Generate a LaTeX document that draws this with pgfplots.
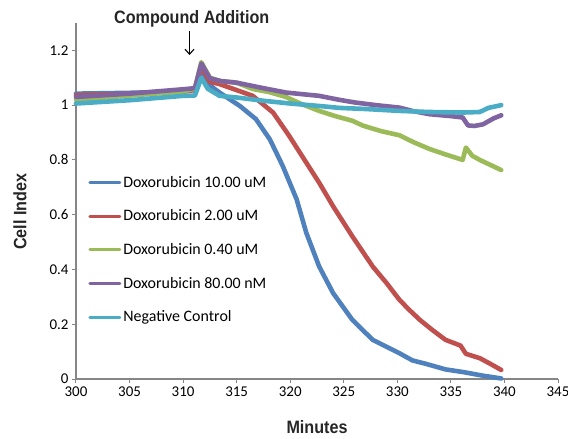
\documentclass[border=0pt]{standalone}
\usepackage{fontspec}
\setmainfont{Carlito}
\newfontfamily\condfont[FakeStretch=0.9]{Liberation Sans Bold}
\usepackage{pgfplots}
\pgfplotsset{compat=1.18}
\usetikzlibrary{arrows.meta}

\definecolor{cblue}{HTML}{4F81BD}
\definecolor{cred}{HTML}{C0504D}
\definecolor{cgreen}{HTML}{9BBB59}
\definecolor{cpurple}{HTML}{8064A2}
\definecolor{ccyan}{HTML}{4BACC6}
\definecolor{axisgray}{HTML}{868686}
\definecolor{labelgray}{HTML}{262626}

\begin{document}
\begin{tikzpicture}
\begin{axis}[
    scale only axis,
    width=482bp, height=356bp,
    xmin=300, xmax=345, ymin=0, ymax=1.3,
    xtick={300,305,310,315,320,325,330,335,340,345},
    ytick={0,0.2,0.4,0.6,0.8,1,1.2},
    axis x line*=bottom, axis y line*=left,
    axis line style={-, draw=axisgray, line width=1.2bp},
    tick style={draw=axisgray, line width=1bp},
    tick align=outside, major tick length=4bp,
    /pgf/number format/assume math mode=true,
    ticklabel style={font=\fontsize{15}{18}\selectfont},
    xlabel={Minutes},
    ylabel={Cell Index},
    xlabel style={at={(axis description cs:0.5,0)}, anchor=north, yshift=-38bp,
        font=\condfont\fontsize{18}{20}\selectfont, text=labelgray},
    ylabel style={at={(axis description cs:0,0.47)}, anchor=center, yshift=56bp,
        font=\condfont\fontsize{18}{20}\selectfont, text=labelgray},
    legend style={at={(0.019,0.584)}, anchor=north west, draw=none, fill=none,
        font=\fontsize{16}{19}\selectfont, row sep=14.6bp,
        nodes={inner sep=2bp, text height=12bp, text depth=3bp}},
    legend cell align=left,
    legend image code/.code={\draw[#1, line width=3bp] (0bp,0bp) -- (30bp,0bp);},
    every axis plot/.append style={line width=4.6bp, line join=round, line cap=round, no markers},
    clip=false,
]

% Doxorubicin 10.00 uM
\addplot[color=cblue] coordinates {
(300,1.042) (305,1.045) (310,1.050) (311.1,1.055) (311.7,1.13) (312.4,1.075)
(313.4,1.046) (315.3,0.997) (316.8,0.949) (318.1,0.875) (319.3,0.778)
(320.6,0.656) (321.5,0.534) (322.7,0.411) (324.0,0.314) (325.8,0.216)
(327.7,0.143) (330.2,0.094) (331.4,0.068) (332.7,0.055) (334.5,0.035)
(336.2,0.025) (338.0,0.012) (339.7,0.002)
};
\addlegendentry{Doxorubicin 10.00 uM}

% Doxorubicin 2.00 uM
\addplot[color=cred] coordinates {
(300,1.036) (305,1.042) (310,1.050) (311.1,1.055) (311.7,1.14) (312.5,1.085)
(313.4,1.077) (316.5,1.034) (318.4,0.973) (319.9,0.888) (321.5,0.790)
(322.7,0.717) (324.0,0.631) (325.8,0.521) (327.7,0.411) (329.0,0.350)
(330.2,0.289) (331.1,0.253) (332.1,0.216) (333.3,0.178) (334.5,0.143)
(335.9,0.122) (336.4,0.092) (337.7,0.076) (338.7,0.055) (339.7,0.033)
};
\addlegendentry{Doxorubicin 2.00 uM}

% Doxorubicin 0.40 uM
\addplot[color=cgreen] coordinates {
(300,1.020) (305,1.035) (310,1.050) (311.1,1.060) (311.7,1.157) (312.5,1.100)
(313.5,1.088) (315,1.082) (316.5,1.059) (318,1.048) (319.6,1.030)
(321,1.005) (322.7,0.979) (324.2,0.960) (325.8,0.943) (326.8,0.925)
(328.5,0.905) (330.2,0.890) (331.5,0.865) (333,0.840) (334.5,0.820)
(336.1,0.800) (336.4,0.845) (337,0.815) (337.7,0.800) (339.7,0.763)
};
\addlegendentry{Doxorubicin 0.40 uM}

% Doxorubicin 80.00 nM
\addplot[color=cpurple] coordinates {
(300,1.030) (305,1.042) (310,1.058) (311.1,1.062) (311.7,1.152) (312.5,1.098)
(313.5,1.088) (315,1.082) (317.5,1.062) (319.6,1.046) (322.7,1.034)
(324.5,1.020) (326,1.010) (328,1.000) (330.2,0.991) (331.5,0.978)
(333,0.967) (335,0.960) (336.1,0.955) (336.6,0.926) (337.2,0.924)
(338,0.930) (339,0.952) (339.7,0.963)
};
\addlegendentry{Doxorubicin 80.00 nM}

% Negative Control
\addplot[color=ccyan] coordinates {
(300,1.006) (305,1.018) (310,1.034) (311.1,1.035) (311.7,1.100) (312.3,1.060)
(313.4,1.034) (315,1.028) (317.5,1.016) (320,1.006) (322.7,0.997)
(324.6,0.990) (327,0.986) (330.2,0.979) (333,0.975) (336.1,0.973)
(337.7,0.975) (338.5,0.990) (339.7,1.000)
};
\addlegendentry{Negative Control}

\node[font=\condfont\fontsize{18}{20}\selectfont, text=labelgray] at (axis cs:310.8,1.316) {Compound Addition};
\draw[-{Straight Barb[length=5bp,width=9bp]}, line width=1.1bp] (axis cs:310.6,1.271) -- (axis cs:310.6,1.183);

\coordinate (ll) at (rel axis cs:0,0);
\end{axis}
\pgfresetboundingbox
\path[use as bounding box] (ll) ++(-76bp,-60bp) rectangle ++(568bp,439bp);
\end{tikzpicture}
\end{document}
